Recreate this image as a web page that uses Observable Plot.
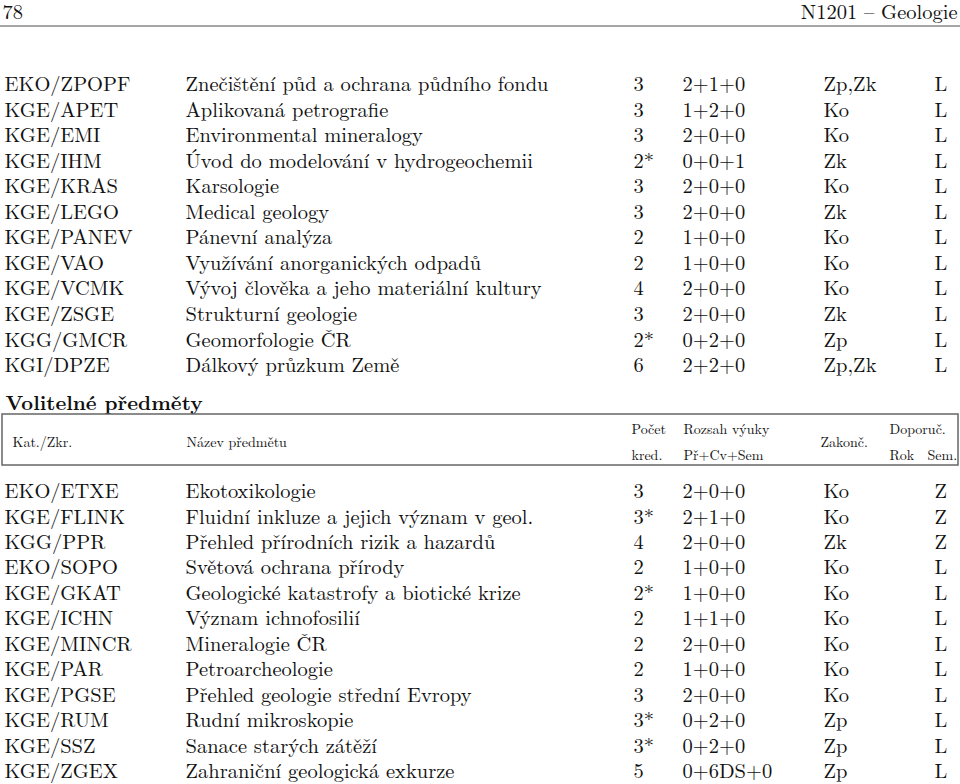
<!DOCTYPE html>
<html>
<head>
<meta charset="utf-8">
<script src="https://cdn.jsdelivr.net/npm/d3@7"></script>
<script src="https://cdn.jsdelivr.net/npm/@observablehq/plot@0.6"></script>
<style>
  html, body { margin: 0; padding: 0; background: #fff; }
  svg { display: block; }
</style>
</head>
<body>
<div id="chart"></div>
<script>
// ---- data ----
const pageNumber = "78";
const pageTitle = "N1201 – Geologie";
const sectionTitle = "Volitelné předměty";

const codes1 = ["EKO/ZPOPF","KGE/APET","KGE/EMI","KGE/IHM","KGE/KRAS","KGE/LEGO","KGE/PANEV","KGE/VAO","KGE/VCMK","KGE/ZSGE","KGG/GMCR","KGI/DPZE"];
const names1 = ["Znečištění půd a ochrana půdního fondu","Aplikovaná petrografie","Environmental mineralogy","Úvod do modelování v hydrogeochemii","Karsologie","Medical geology","Pánevní analýza","Využívání anorganických odpadů","Vývoj člověka a jeho materiální kultury","Strukturní geologie","Geomorfologie ČR","Dálkový průzkum Země"];
const credits1 = ["3","3","3","2*","3","3","2","2","4","3","2*","6"];
const hours1 = ["2+1+0","1+2+0","2+0+0","0+0+1","2+0+0","2+0+0","1+0+0","1+0+0","2+0+0","2+0+0","0+2+0","2+2+0"];
const exams1 = ["Zp,Zk","Ko","Ko","Zk","Ko","Zk","Ko","Ko","Ko","Zk","Zp","Zp,Zk"];
const sems1 = ["L","L","L","L","L","L","L","L","L","L","L","L"];

const codes2 = ["EKO/ETXE","KGE/FLINK","KGG/PPR","EKO/SOPO","KGE/GKAT","KGE/ICHN","KGE/MINCR","KGE/PAR","KGE/PGSE","KGE/RUM","KGE/SSZ","KGE/ZGEX"];
const names2 = ["Ekotoxikologie","Fluidní inkluze a jejich význam v geol.","Přehled přírodních rizik a hazardů","Světová ochrana přírody","Geologické katastrofy a biotické krize","Význam ichnofosilií","Mineralogie ČR","Petroarcheologie","Přehled geologie střední Evropy","Rudní mikroskopie","Sanace starých zátěží","Zahraniční geologická exkurze"];
const credits2 = ["3","3*","4","2","2*","2","2","2","3","3*","3*","5"];
const hours2 = ["2+0+0","2+1+0","2+0+0","1+0+0","1+0+0","1+1+0","2+0+0","1+0+0","2+0+0","0+2+0","0+2+0","0+6DS+0"];
const exams2 = ["Ko","Ko","Zk","Ko","Ko","Ko","Ko","Ko","Ko","Zp","Zp","Zp"];
const sems2 = ["Z","Z","Z","L","L","L","L","L","L","L","L","L"];

const headerTop = ["Počet","Rozsah výuky","Doporuč."];
const headerBottom = ["kred.","Př+Cv+Sem","Rok","Sem."];
const headerMiddle = ["Kat./Zkr.","Název předmětu","Zakonč."];

// ---- layout ----
const W = 960, H = 784;
const font = "'Latin Modern Roman','CMU Serif','Liberation Serif','Times New Roman',serif";
const bodySize = 20.5;
const colX = {code: 4, name: 185, credits: 633, hours: 682, exam: 823, sem: 934};
const table1Top = 84, table1Step = 25.55;
const table2Top = 491, table2Step = 25.45;

function rows(codes, names, credits, hours, exams, sems, top, step) {
  return codes.map((c, i) => ({
    code: c, name: names[i], credits: credits[i], hours: hours[i], exam: exams[i], sem: sems[i],
    y: top + i * step
  }));
}
const t1 = rows(codes1, names1, credits1, hours1, exams1, sems1, table1Top, table1Step);
const t2 = rows(codes2, names2, credits2, hours2, exams2, sems2, table2Top, table2Step);
const allRows = t1.concat(t2);

const cols = ["code","name","credits","hours","exam","sem"];
const bodyMarks = cols.map(k => Plot.text(allRows, {
  x: () => colX[k], y: "y", text: k, textAnchor: "start",
  fontSize: bodySize, fill: "#111"
}));

const hTop = headerTop.map((t, i) => ({t, x: [631, 683, 889][i], y: 429}));
const hBot = headerBottom.map((t, i) => ({t, x: [631, 683, 889, 927][i], y: 455}));
const hMid = headerMiddle.map((t, i) => ({t, x: [12, 186, 820][i], y: 442}));
const headerCells = hTop.concat(hBot, hMid);

const chart = Plot.plot({
  width: W, height: H, margin: 0,
  style: {fontFamily: font, background: "#fff"},
  x: {domain: [0, W], range: [0, W], axis: null},
  y: {domain: [0, H], range: [0, H], axis: null},
  marks: [
    Plot.text([pageNumber], {x: () => 2, y: () => 12, text: d => d, textAnchor: "start", fontSize: 20.5, fill: "#111"}),
    Plot.text([pageTitle], {x: () => 957, y: () => 12, text: d => d, textAnchor: "end", fontSize: 20.5, fill: "#111"}),
    Plot.ruleY([25.5], {x1: 0, x2: W, stroke: "#888", strokeWidth: 1.5}),
    Plot.text([sectionTitle], {x: () => 5, y: () => 403, text: d => d, textAnchor: "start", fontSize: 20.5, fontWeight: "bold", fill: "#111"}),
    Plot.rect([{}], {x1: () => 2, x2: () => 958, y1: () => 414, y2: () => 465, fill: "none", stroke: "#666", strokeWidth: 1.5}),
    Plot.text(headerCells, {x: "x", y: "y", text: "t", textAnchor: "start", fontSize: 14, fill: "#111"}),
    ...bodyMarks
  ]
});
document.getElementById("chart").appendChild(chart);
</script>
</body>
</html>
